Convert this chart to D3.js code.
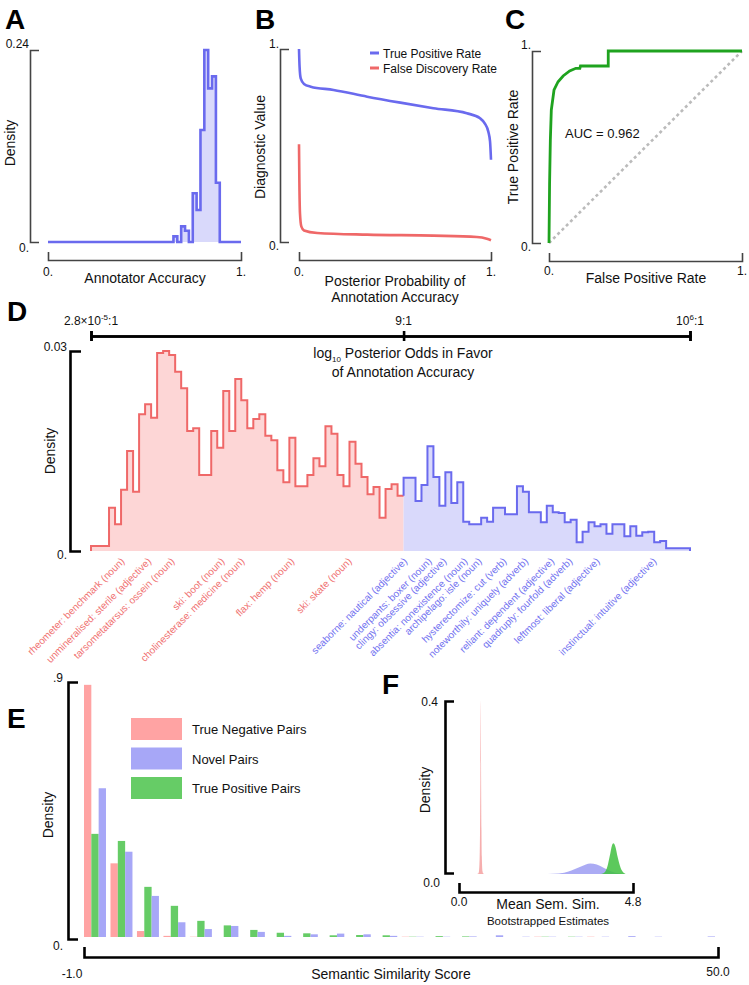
<!DOCTYPE html>
<html>
<head>
<meta charset="utf-8">
<script src="https://cdn.jsdelivr.net/npm/d3@7"></script>
<style>
  body { margin: 0; background: #fff; }
  svg { display: block; }
</style>
</head>
<body>
<div id="wrapper"></div>
<script>
/* global d3 */

/* ---------- DATA ---------- */

// A: annotator accuracy histogram (bin edges + density per bin)
const accuracyEdges = [0, 0.65, 0.67, 0.69, 0.71, 0.73, 0.75, 0.77, 0.79, 0.81, 0.83, 0.85, 0.87, 0.89, 1];
const accuracyDensity = [0, 0.007, 0, 0.0195, 0.014, 0, 0.061, 0.04, 0.14, 0.24, 0.192, 0.207, 0.074, 0];

// B: diagnostic curves vs posterior probability
const tprProb = [0, 0.003, 0.009, 0.026, 0.061, 0.18, 0.355, 0.528, 0.7, 0.874, 0.943, 0.969, 0.986, 0.995, 1];
const tprValue = [1.0, 0.909, 0.848, 0.819, 0.805, 0.788, 0.753, 0.722, 0.693, 0.667, 0.641, 0.612, 0.572, 0.521, 0.426];
const fdrProb = [0, 0.002, 0.005, 0.012, 0.026, 0.095, 0.355, 0.7, 0.926, 0.978, 1];
const fdrValue = [0.507, 0.305, 0.15, 0.081, 0.06, 0.047, 0.038, 0.033, 0.026, 0.017, 0.009];

// C: ROC curve
const rocFpr = [0, 0.003, 0.007, 0.012, 0.026, 0.047, 0.073, 0.107, 0.139, 0.16, 0.163, 0.307, 0.307, 1];
const rocTpr = [0, 0.307, 0.537, 0.693, 0.797, 0.84, 0.87, 0.896, 0.91, 0.91, 0.922, 0.922, 1, 1];
const aucValue = 0.962;

// D: log10 posterior odds histogram
const oddsTicks = [-4.553, 0.954, 6]; // log10(2.8e-5), log10(9), log10(1e6)
const incorrectDensity = [0.00075, 0.00075, 0.00075, 0.0065, 0.004, 0.0092, 0.015, 0.0089, 0.0205, 0.022,
  0.02, 0.0297, 0.03, 0.0294, 0.0269, 0.0244, 0.018, 0.0184, 0.0114, 0.0114,
  0.018, 0.0155, 0.024, 0.018, 0.0258, 0.0226, 0.0184, 0.0198, 0.0205, 0.0173,
  0.0166, 0.0121, 0.0103, 0.017, 0.0097, 0.0097, 0.0114, 0.0139, 0.0127, 0.0187,
  0.0176, 0.0114, 0.0097, 0.0164, 0.0131, 0.0111, 0.0085, 0.0096, 0.005, 0.0093,
  0.01, 0.0083];
const correctDensity = [0.011, 0.011, 0.0075, 0.0099, 0.0157, 0.0111, 0.0068, 0.0118, 0.0072, 0.0103,
  0.0044, 0.004, 0.004, 0.005, 0.0044, 0.0065, 0.0065, 0.0055, 0.0055, 0.0097,
  0.0089, 0.0058, 0.0058, 0.0043, 0.0068, 0.0058, 0.0057, 0.0043, 0.0047, 0.0013,
  0.0029, 0.0043, 0.0037, 0.004, 0.0026, 0.004, 0.004, 0.0022, 0.0037, 0.0023,
  0.0028, 0.0029, 0.0013, 0.0015, 0.0004, 0.0004, 0.0004, 0.0004];
const pairLabels = [
  'rheometer: benchmark (noun)', 'unmineralised: sterile (adjective)', 'tarsometatarsus: ossein (noun)',
  'ski: boot (noun)', 'cholinesterase: medicine (noun)', 'flax: hemp (noun)', 'ski: skate (noun)',
  'seaborne: nautical (adjective)', 'underpants: boxer (noun)', 'clingy: obsessive (adjective)',
  'absentia: nonexistence (noun)', 'archipelago: isle (noun)', 'hysterectomize: cut (verb)',
  'noteworthily: uniquely (adverb)', 'reliant: dependent (adjective)', 'quadruply: fourfold (adverb)',
  'leftmost: liberal (adjective)', 'instinctual: intuitive (adjective)'
];
const pairOdds = [-3.95, -3.48, -3.07, -2.19, -1.84, -0.96, 0.05, 1.03, 1.46, 1.72, 2.09, 2.34, 2.78, 3.16, 3.62, 3.94, 4.42, 5.42];

// E: semantic similarity histogram (24 bins)
const seriesE = ['True Negative Pairs', 'Novel Pairs', 'True Positive Pairs'];
const negPairs = [0.89, 0.26, 0.021, 0.004, 0.001, 0, 0, 0, 0, 0, 0, 0, 0.001, 0, 0, 0, 0, 0.001, 0, 0.001, 0, 0, 0, 0];
const novelPairs = [0.525, 0.301, 0.145, 0.052, 0.028, 0.039, 0.018, 0.004, 0.0095, 0.012, 0.0095, 0.004, 0.001, 0.001, 0.002, 0.006, 0.001, 0.001, 0.001, 0.001, 0.003, 0.001, 0, 0.002];
const posPairs = [0.364, 0.339, 0.177, 0.11, 0.057, 0.041, 0.025, 0.015, 0.013, 0.006, 0.007, 0.006, 0.001, 0.003, 0.002, 0, 0, 0.001, 0.001, 0, 0, 0, 0, 0];

// F: bootstrapped mean semantic similarity densities
const negMeanX = [0.5, 0.53, 0.55, 0.57, 0.58, 0.59, 0.6, 0.61, 0.62, 0.63, 0.65, 0.67, 0.7];
const negMeanD = [0, 0.001, 0.006, 0.04, 0.1, 0.22, 0.4, 0.22, 0.1, 0.04, 0.006, 0.001, 0];
const novelMeanX = [2.3, 2.6, 2.9, 3.1, 3.3, 3.5, 3.62, 3.8, 4.0, 4.2, 4.4, 4.58];
const novelMeanD = [0, 0.0008, 0.003, 0.008, 0.015, 0.022, 0.024, 0.022, 0.014, 0.006, 0.0015, 0];
const posMeanX = [3.92, 4.02, 4.09, 4.16, 4.22, 4.26, 4.31, 4.38, 4.46, 4.53, 4.6];
const posMeanD = [0, 0.004, 0.016, 0.042, 0.066, 0.071, 0.064, 0.038, 0.014, 0.004, 0];

/* ---------- HELPERS ---------- */
const font = "'Liberation Sans', Arial, Helvetica, sans-serif";
const colors = {
  blue: '#6a6aee', blueFill: '#d9d9fb',
  red: '#ef6868', redFill: '#fdd6d6',
  green: '#1fa31f',
  barRed: '#ffa3a3', barBlue: '#a7a7f7', barGreen: '#66cc66'
};

const svg = d3.select('#wrapper')
  .append('svg')
  .attr('width', 749)
  .attr('height', 985)
  .style('font-family', font);

svg.append('rect').attr('width', 749).attr('height', 985).attr('fill', '#fff');

function label(x, y, str, size, anchor = 'start', fill = '#111', weight = 'normal') {
  return svg.append('text')
    .attr('x', x).attr('y', y)
    .attr('text-anchor', anchor)
    .attr('font-size', size)
    .attr('font-weight', weight)
    .attr('fill', fill)
    .text(str);
}

function vlabel(x, y, str, size = 14) {
  svg.append('text')
    .attr('transform', `translate(${x},${y}) rotate(-90)`)
    .attr('text-anchor', 'middle')
    .attr('font-size', size)
    .attr('fill', '#111')
    .text(str);
}

// bracket-style frame axes built from d3 axes (outer ticks only)
function yBracket(x, scale, tick, width, color) {
  svg.append('g')
    .attr('transform', `translate(${x},0)`)
    .call(d3.axisRight(scale).tickValues([]).tickSizeOuter(tick))
    .call(g => g.select('.domain').attr('stroke', color).attr('stroke-width', width));
}
function xBracket(y, scale, tick, width, color) {
  svg.append('g')
    .attr('transform', `translate(0,${y})`)
    .call(d3.axisTop(scale).tickValues([]).tickSizeOuter(tick))
    .call(g => g.select('.domain').attr('stroke', color).attr('stroke-width', width));
}

/* ---------- PANEL A ---------- */
{
  const x = d3.scaleLinear().domain([0, 1]).range([48, 241]);
  const y = d3.scaleLinear().domain([0, 0.24]).range([242, 50]);
  const pts = accuracyDensity.map((d, i) => [accuracyEdges[i], d]);
  pts.push([1, 0]);
  svg.append('path')
    .attr('d', d3.area().x(d => x(d[0])).y0(y(0)).y1(d => y(d[1])).curve(d3.curveStepAfter)(pts))
    .attr('fill', colors.blueFill);
  svg.append('path')
    .attr('d', d3.line().x(d => x(d[0])).y(d => y(d[1])).curve(d3.curveStepAfter)(pts))
    .attr('fill', 'none').attr('stroke', colors.blue).attr('stroke-width', 2.6)
    .attr('stroke-linejoin', 'miter');
  yBracket(30, y, 9, 1.6, '#444');
  xBracket(260, x, 8, 1.6, '#444');
  label(29, 48, '0.24', 12, 'end');
  label(29, 252, '0.', 12, 'end');
  label(x(0), 276, '0.', 12, 'middle');
  label(x(1), 276, '1.', 12, 'middle');
  label(145, 283, 'Annotator Accuracy', 14, 'middle');
  vlabel(15, 143, 'Density');
  label(5, 29, 'A', 28, 'start', '#000', 'bold');
}

/* ---------- PANEL B ---------- */
{
  const x = d3.scaleLinear().domain([0, 1]).range([299, 491]);
  const y = d3.scaleLinear().domain([0, 1]).range([242, 49]);
  const line = d3.line().x(d => x(d[0])).y(d => y(d[1])).curve(d3.curveMonotoneX);
  svg.append('path')
    .attr('d', line(tprProb.map((p, i) => [p, tprValue[i]])))
    .attr('fill', 'none').attr('stroke', colors.blue).attr('stroke-width', 2.6);
  svg.append('path')
    .attr('d', line(fdrProb.map((p, i) => [p, fdrValue[i]])))
    .attr('fill', 'none').attr('stroke', colors.red).attr('stroke-width', 2.6);
  yBracket(280, y, 9, 1.6, '#444');
  xBracket(260, x, 8, 1.6, '#444');
  label(279, 48, '1.', 12, 'end');
  label(279, 250, '0.', 12, 'end');
  label(x(0), 276, '0.', 12, 'middle');
  label(x(1), 276, '1.', 12, 'middle');
  label(395, 286, 'Posterior Probability of', 14, 'middle');
  label(395, 302, 'Annotation Accuracy', 14, 'middle');
  vlabel(265, 147, 'Diagnostic Value');
  label(255, 29, 'B', 28, 'start', '#000', 'bold');
  // legend
  const legend = [['True Positive Rate', colors.blue], ['False Discovery Rate', colors.red]];
  legend.forEach(([name, c], i) => {
    svg.append('line')
      .attr('x1', 370).attr('x2', 379).attr('y1', 53 + i * 15).attr('y2', 53 + i * 15)
      .attr('stroke', c).attr('stroke-width', 3);
    label(383, 57.5 + i * 15, name, 12);
  });
}

/* ---------- PANEL C ---------- */
{
  const x = d3.scaleLinear().domain([0, 1]).range([549, 742]);
  const y = d3.scaleLinear().domain([0, 1]).range([243, 51]);
  svg.append('line')
    .attr('x1', x(0)).attr('y1', y(0)).attr('x2', x(1)).attr('y2', y(1))
    .attr('stroke', '#bbb').attr('stroke-width', 2.6).attr('stroke-dasharray', '3,3');
  svg.append('path')
    .attr('d', d3.line().x(d => x(d[0])).y(d => y(d[1]))(rocFpr.map((f, i) => [f, rocTpr[i]])))
    .attr('fill', 'none').attr('stroke', colors.green).attr('stroke-width', 2.8);
  yBracket(532, y, 9, 1.6, '#444');
  xBracket(261, x, 8, 1.6, '#444');
  label(531, 49, '1.', 12, 'end');
  label(531, 251, '0.', 12, 'end');
  label(x(0), 275, '0.', 12, 'middle');
  label(x(1), 275, '1.', 12, 'middle');
  label(646, 283, 'False Positive Rate', 14, 'middle');
  vlabel(518, 147, 'True Positive Rate');
  label(565, 138, `AUC = ${aucValue}`, 13);
  label(505, 29, 'C', 28, 'start', '#000', 'bold');
}

/* ---------- PANEL D ---------- */
{
  const x = d3.scaleLinear().domain([oddsTicks[0], oddsTicks[2]]).range([91, 690]);
  const y = d3.scaleLinear().domain([0, 0.03]).range([551, 351]);

  const redStep = (oddsTicks[1] - oddsTicks[0]) / incorrectDensity.length;
  const blueStep = (oddsTicks[2] - oddsTicks[1]) / correctDensity.length;
  const redPts = incorrectDensity.map((d, i) => [oddsTicks[0] + i * redStep, d]);
  redPts.push([oddsTicks[1], incorrectDensity[incorrectDensity.length - 1]]);
  const bluePts = correctDensity.map((d, i) => [oddsTicks[1] + i * blueStep, d]);
  bluePts.push([oddsTicks[2], correctDensity[correctDensity.length - 1]]);

  const area = d3.area().x(d => x(d[0])).y0(y(0)).y1(d => y(d[1])).curve(d3.curveStepAfter);
  const line = d3.line().x(d => x(d[0])).y(d => y(d[1])).curve(d3.curveStepAfter);

  svg.append('path').attr('d', area(redPts)).attr('fill', colors.redFill);
  svg.append('path').attr('d', area(bluePts)).attr('fill', colors.blueFill);
  svg.append('path')
    .attr('d', line([[oddsTicks[0], 0], ...redPts]))
    .attr('fill', 'none').attr('stroke', colors.red).attr('stroke-width', 2);
  svg.append('path')
    .attr('d', line([[oddsTicks[1], incorrectDensity[incorrectDensity.length - 1]], ...bluePts, [oddsTicks[2], 0]]))
    .attr('fill', 'none').attr('stroke', colors.blue).attr('stroke-width', 2);

  yBracket(70, y, 11, 2.6, '#000');
  label(67, 351, '0.03', 12, 'end');
  label(67, 559, '0.', 12, 'end');
  vlabel(55, 451, 'Density');

  // top odds axis, ticks crossing the line
  [d3.axisTop, d3.axisBottom].forEach(axisFn => {
    svg.append('g')
      .attr('transform', 'translate(0,336)')
      .call(axisFn(x).tickValues(oddsTicks).tickSize(5).tickFormat(''))
      .call(g => g.selectAll('.domain, line').attr('stroke', '#000').attr('stroke-width', 2.6));
  });
  const t0 = svg.append('text').attr('x', x(oddsTicks[0])).attr('y', 325)
    .attr('text-anchor', 'middle').attr('font-size', 12).attr('fill', '#111');
  t0.append('tspan').text('2.8×10');
  t0.append('tspan').attr('dy', -5).attr('font-size', 8).text('-5');
  t0.append('tspan').attr('dy', 5).text(':1');
  label(x(oddsTicks[1]), 325, '9:1', 12, 'middle');
  const t2 = svg.append('text').attr('x', x(oddsTicks[2])).attr('y', 325)
    .attr('text-anchor', 'middle').attr('font-size', 12).attr('fill', '#111');
  t2.append('tspan').text('10');
  t2.append('tspan').attr('dy', -5).attr('font-size', 8).text('6');
  t2.append('tspan').attr('dy', 5).text(':1');

  const title = svg.append('text').attr('x', 403).attr('y', 358)
    .attr('text-anchor', 'middle').attr('font-size', 14).attr('fill', '#111');
  title.append('tspan').text('log');
  title.append('tspan').attr('dy', 4).attr('font-size', 8).text('10');
  title.append('tspan').attr('dy', -4).text(' Posterior Odds in Favor');
  label(403, 377, 'of Annotation Accuracy', 14, 'middle');

  // word pair labels
  svg.append('g')
    .selectAll('text')
    .data(pairLabels)
    .join('text')
    .attr('transform', (d, i) => `translate(${x(pairOdds[i])},562) rotate(-45)`)
    .attr('text-anchor', 'end')
    .attr('font-size', 10)
    .attr('fill', (d, i) => pairOdds[i] < oddsTicks[1] ? '#f07272' : '#7272f0')
    .text(d => d);

  label(7, 321, 'D', 28, 'start', '#000', 'bold');
}

/* ---------- PANEL E ---------- */
{
  const bins = d3.range(negPairs.length);
  const x = d3.scaleBand().domain(bins).range([84, 715]).paddingInner(0.17).paddingOuter(0).align(0);
  const inner = d3.scaleBand().domain(['neg', 'pos', 'novel']).range([0, x.bandwidth()]);
  const y = d3.scaleLinear().domain([0, 0.9]).range([937, 682]);
  const series = [
    { key: 'neg', values: negPairs, color: colors.barRed },
    { key: 'pos', values: posPairs, color: colors.barGreen },
    { key: 'novel', values: novelPairs, color: colors.barBlue }
  ];
  series.forEach(s => {
    svg.append('g')
      .selectAll('rect')
      .data(s.values)
      .join('rect')
      .attr('x', (d, i) => x(i) + inner(s.key))
      .attr('width', inner.bandwidth())
      .attr('y', d => y(d))
      .attr('height', d => y(0) - y(d))
      .attr('fill', s.color);
  });
  yBracket(68, d3.scaleLinear().range([939, 682]), 10, 2.6, '#000');
  xBracket(957, d3.scaleLinear().range([84, 718]), 10, 2.6, '#000');
  label(63, 682, '.9', 12, 'end');
  label(63, 950, '0.', 12, 'end');
  label(72, 978, '-1.0', 12, 'middle');
  label(718, 976, '50.0', 12, 'middle');
  label(391, 979, 'Semantic Similarity Score', 14, 'middle');
  vlabel(53, 815, 'Density');
  label(7, 728, 'E', 28, 'start', '#000', 'bold');

  // legend
  const legendColors = [colors.barRed, colors.barBlue, colors.barGreen];
  seriesE.forEach((name, i) => {
    svg.append('rect')
      .attr('x', 131).attr('y', 718 + i * 29.5).attr('width', 51).attr('height', 22)
      .attr('fill', legendColors[i]);
    label(192, 734 + i * 29.5, name, 13);
  });
}

/* ---------- PANEL F ---------- */
{
  const x = d3.scaleLinear().domain([0, 4.8]).range([459, 633]);
  const y = d3.scaleLinear().domain([0, 0.4]).range([874, 701]);
  const area = d3.area().x(d => x(d[0])).y0(y(0)).y1(d => y(d[1])).curve(d3.curveMonotoneX);
  const curves = [
    { xs: negMeanX, ds: negMeanD, color: '#f4a0a0' },
    { xs: novelMeanX, ds: novelMeanD, color: '#9c9cf2' },
    { xs: posMeanX, ds: posMeanD, color: '#3fbf3f' }
  ];
  curves.forEach(c => {
    svg.append('path')
      .attr('d', area(c.xs.map((v, i) => [v, c.ds[i]])))
      .attr('fill', c.color)
      .attr('fill-opacity', 0.85);
  });
  yBracket(445, d3.scaleLinear().range([873, 701]), 9, 2.6, '#000');
  xBracket(892, x, 9, 2.6, '#000');
  label(438, 706, '0.4', 12, 'end');
  label(440, 887, '0.0', 12, 'end');
  label(x(0), 906, '0.0', 12, 'middle');
  label(x(4.8), 906, '4.8', 12, 'middle');
  label(548, 909, 'Mean Sem. Sim.', 14, 'middle');
  label(548, 925, 'Bootstrapped Estimates', 11.5, 'middle');
  vlabel(430, 790, 'Density');
  label(382, 694, 'F', 28, 'start', '#000', 'bold');
}
</script>
</body>
</html>
